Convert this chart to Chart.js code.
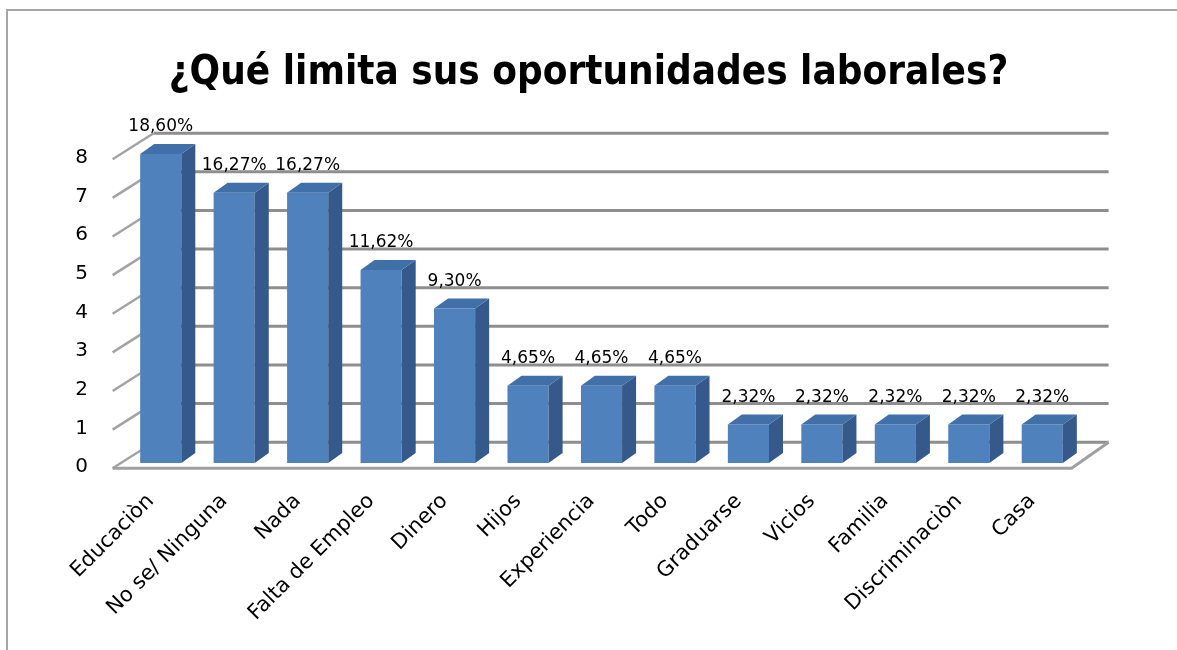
<!DOCTYPE html>
<html>
<head>
<meta charset="utf-8">
<script src="https://cdn.jsdelivr.net/npm/chart.js@4.4.0/dist/chart.umd.min.js"></script>
<style>
  html, body { margin: 0; padding: 0; background: #fff; overflow: hidden; }
  #wrap { position: relative; width: 1177px; height: 650px; }
  #frame { position: absolute; left: 6px; top: 9px; right: -10px; bottom: -10px; border: 2px solid #a6a6a6; }
  canvas { position: absolute; left: 0; top: 0; }
</style>
</head>
<body>
<div id="wrap">
  <div id="frame"></div>
  <canvas id="chart" width="1177" height="650"></canvas>
</div>
<script>
// Chart data
const categories = ['Educaciòn', 'No se/ Ninguna', 'Nada', 'Falta de Empleo', 'Dinero', 'Hijos',
    'Experiencia', 'Todo', 'Graduarse', 'Vicios', 'Familia', 'Discriminaciòn', 'Casa'];
const counts = [8, 7, 7, 5, 4, 2, 2, 2, 1, 1, 1, 1, 1];
const percentLabels = ['18,60%', '16,27%', '16,27%', '11,62%', '9,30%', '4,65%', '4,65%', '4,65%',
    '2,32%', '2,32%', '2,32%', '2,32%', '2,32%'];
const yTicks = [0, 1, 2, 3, 4, 5, 6, 7, 8];

// 3D look: depth of the floor and of each bar (pixels)
const depth = { x: 37, y: -26 };
const barPlane = 0.2;      // bars sit a bit behind the front edge
const barDepth = { x: 14, y: -10 };

const fakeThreeD = {
    id: 'fakeThreeD',
    beforeDatasetsDraw(chart) {
        const ctx = chart.ctx;
        const area = chart.chartArea;
        const y = chart.scales.y;
        const fx = -depth.x * barPlane, fy = -depth.y * barPlane;
        const bx = depth.x * (1 - barPlane), by = depth.y * (1 - barPlane);
        ctx.save();
        ctx.strokeStyle = '#8e8e8e';
        ctx.lineWidth = 3;
        yTicks.forEach(v => {
            const py = y.getPixelForValue(v);
            // back wall line
            ctx.beginPath();
            ctx.moveTo(area.left + bx, py + by);
            ctx.lineTo(area.right + bx, py + by);
            ctx.stroke();
            // left wall line
            ctx.strokeStyle = '#a3a3a3';
            ctx.lineWidth = 2.5;
            ctx.beginPath();
            ctx.moveTo(area.left + fx - 4, py + fy);
            ctx.lineTo(area.left + bx, py + by);
            ctx.stroke();
            ctx.strokeStyle = '#8e8e8e';
            ctx.lineWidth = 3;
        });
        // floor front and right edge
        const p0 = y.getPixelForValue(0);
        ctx.strokeStyle = '#a0a0a0';
        ctx.beginPath();
        ctx.moveTo(area.left + fx - 4, p0 + fy);
        ctx.lineTo(area.right + fx, p0 + fy);
        ctx.lineTo(area.right + bx, p0 + by);
        ctx.stroke();
        ctx.restore();
    },
    afterDatasetsDraw(chart) {
        const ctx = chart.ctx;
        const meta = chart.getDatasetMeta(0);
        ctx.save();
        meta.data.forEach((bar, i) => {
            const p = bar.getProps(['x', 'y', 'base', 'width'], true);
            const xl = p.x - p.width / 2, xr = p.x + p.width / 2;
            // side face
            ctx.fillStyle = '#34598a';
            ctx.beginPath();
            ctx.moveTo(xr, p.y);
            ctx.lineTo(xr + barDepth.x, p.y + barDepth.y);
            ctx.lineTo(xr + barDepth.x, p.base + barDepth.y);
            ctx.lineTo(xr, p.base);
            ctx.closePath();
            ctx.fill();
            // top face
            ctx.fillStyle = '#416fa8';
            ctx.beginPath();
            ctx.moveTo(xl, p.y);
            ctx.lineTo(xl + barDepth.x, p.y + barDepth.y);
            ctx.lineTo(xr + barDepth.x, p.y + barDepth.y);
            ctx.lineTo(xr, p.y);
            ctx.closePath();
            ctx.fill();
            // value label
            ctx.fillStyle = '#000';
            ctx.font = '17px "DejaVu Sans"';
            ctx.textAlign = 'center';
            ctx.textBaseline = 'middle';
            ctx.fillText(percentLabels[i], p.x, p.y - 27);
        });
        ctx.restore();
    }
};

Chart.defaults.font.family = '"DejaVu Sans", sans-serif';
Chart.defaults.color = '#000';

const ctx = document.getElementById('chart').getContext('2d');

const limitChart = new Chart(ctx, {
    type: 'bar',
    data: {
        labels: categories,
        datasets: [{
            label: 'Personas',
            data: counts,
            backgroundColor: '#4f81bd',
            borderWidth: 0,
            barPercentage: 0.56,
            categoryPercentage: 1
        }]
    },
    options: {
        responsive: false,
        animation: false,
        layout: { padding: 0 },
        plugins: {
            legend: { display: false },
            tooltip: { enabled: false },
            title: {
                display: true,
                text: '¿Qué limita sus oportunidades laborales?',
                font: { family: '"Liberation Sans Narrow", "DejaVu Sans Condensed", sans-serif', size: 40, weight: 'bold' },
                color: '#000',
                padding: { top: 50, bottom: 56 }
            }
        },
        scales: {
            x: {
                grid: { display: false, drawTicks: false },
                border: { display: false },
                ticks: { font: { size: 21 }, minRotation: 45, maxRotation: 45, padding: 26, labelOffset: -10 },
                afterFit(scale) { scale.height = 187; }
            },
            y: {
                min: 0,
                max: 8,
                grid: { display: false, drawTicks: false },
                border: { display: false },
                ticks: { stepSize: 1, font: { size: 20 }, padding: 36, labelOffset: 4 },
                afterFit(scale) { scale.width = 124; }
            },
            // empty right axis, keeps room for the 3D depth on the right
            yRight: {
                position: 'right',
                grid: { display: false, drawTicks: false },
                border: { display: false },
                ticks: { display: false },
                afterFit(scale) { scale.width = 98; }
            }
        }
    },
    plugins: [fakeThreeD]
});
</script>
</body>
</html>
